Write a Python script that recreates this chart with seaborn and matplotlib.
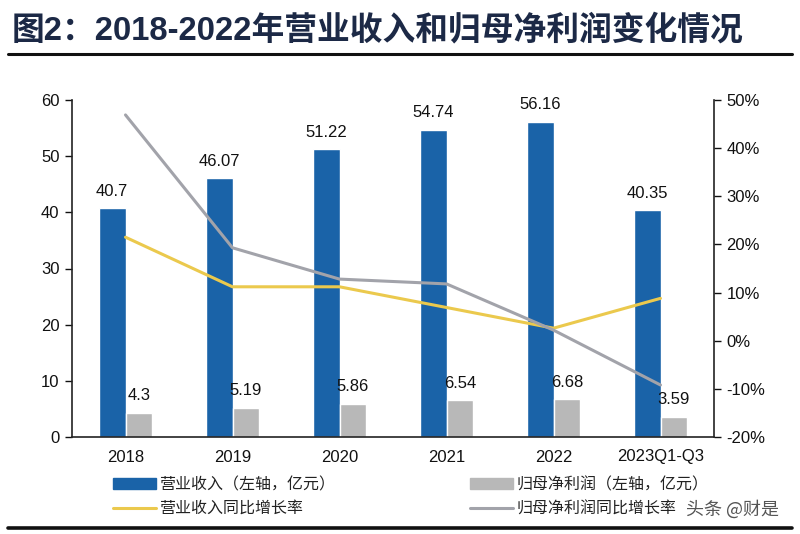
import numpy as np
import pandas as pd
import matplotlib
matplotlib.use("Agg")
import matplotlib.pyplot as plt
import seaborn as sns
from matplotlib.patches import Patch
from matplotlib.lines import Line2D

# ---- data ----
categories = ["2018", "2019", "2020", "2021", "2022", "2023Q1-Q3"]
revenue = [40.7, 46.07, 51.22, 54.74, 56.16, 40.35]
net_profit = [4.3, 5.19, 5.86, 6.54, 6.68, 3.59]
revenue_growth = [21.5, 11.2, 11.2, 6.9, 2.6, 8.8]
profit_growth = [46.9, 19.3, 12.8, 11.8, 2.2, -9.2]
left_ticks = [0, 10, 20, 30, 40, 50, 60]
right_ticks = [-20, -10, 0, 10, 20, 30, 40, 50]

title = "图2：2018-2022年营业收入和归母净利润变化情况"
s_rev = "营业收入（左轴，亿元）"
s_np = "归母净利润（左轴，亿元）"
s_revg = "营业收入同比增长率"
s_npg = "归母净利润同比增长率"

BLUE = "#1a63a8"
GRAY = "#b8b8b8"
YELLOW = "#ebc94d"
LGRAY = "#a2a3aa"

sns.set_theme(style="white")
plt.rcParams["font.family"] = ["Liberation Sans", "Noto Sans CJK SC", "DejaVu Sans"]

fig = plt.figure(figsize=(8, 5.34), dpi=100)
ax = fig.add_axes([72 / 800, 1 - 437 / 534, (714 - 72) / 800, (437 - 100) / 534])

df = pd.DataFrame({
    "cat": categories * 2,
    "val": revenue + net_profit,
    "series": [s_rev] * len(categories) + [s_np] * len(categories),
})
sns.barplot(data=df, x="cat", y="val", hue="series", order=categories,
            hue_order=[s_rev, s_np], palette=[BLUE, GRAY], width=0.5,
            saturation=1, legend=False, ax=ax)

for cont, vals in zip(ax.containers, [revenue, net_profit]):
    ax.bar_label(cont, labels=[f"{v:g}" for v in vals], padding=7,
                 fontsize=12, color="#111111")

ax.set_xlim(-0.5, 5.5)
ax.set_ylim(0, 60)
ax.set_yticks(left_ticks)
ax.set_xlabel("")
ax.set_ylabel("")
ax.tick_params(axis="y", which="both", left=True, length=5, width=1,
               labelsize=12, colors="#111111", pad=4)
ax.tick_params(axis="x", length=0, labelsize=12, colors="#111111", pad=9)
for s in ["top", "right"]:
    ax.spines[s].set_visible(False)
for s in ["left", "bottom"]:
    ax.spines[s].set_color("#222222")
    ax.spines[s].set_linewidth(1.2)

ax2 = ax.twinx()
xs = np.arange(len(categories))
ldf = pd.DataFrame({
    "x": np.concatenate([xs, xs]),
    "v": revenue_growth + profit_growth,
    "s": [s_revg] * len(xs) + [s_npg] * len(xs),
})
sns.lineplot(data=ldf, x="x", y="v", hue="s", hue_order=[s_revg, s_npg],
             palette=[YELLOW, LGRAY], linewidth=2.2, legend=False, ax=ax2)
ax2.set_ylim(-20, 50)
ax2.set_yticks(right_ticks)
ax2.set_yticklabels([f"{t}%" for t in right_ticks])
ax2.set_xlim(-0.5, 5.5)
ax2.set_xlabel("")
ax2.set_ylabel("")
ax2.tick_params(axis="y", right=True, length=5, width=1, labelsize=12,
                colors="#111111", pad=4)
for s in ["top", "left", "bottom"]:
    ax2.spines[s].set_visible(False)
ax2.spines["right"].set_color("#222222")
ax2.spines["right"].set_linewidth(1.2)

# title and rules
fig.text(12 / 800, 1 - 30 / 534, title, fontsize=23.6, fontweight="bold",
         color="#1c2946", va="center", ha="left",
         family=["Liberation Sans", "Noto Sans CJK SC"])
fig.add_artist(Line2D([8 / 800, 792 / 800], [1 - 54 / 534] * 2,
                      color="#111111", linewidth=2.2))
fig.add_artist(Line2D([8 / 800, 792 / 800], [1 - 528 / 534] * 2,
                      color="#111111", linewidth=2.6))

# legends
lkw = dict(frameon=False, handlelength=2.7, handleheight=0.7,
           handletextpad=0.2, labelspacing=0.45, borderpad=0, borderaxespad=0,
           prop={"family": ["Noto Sans CJK SC", "DejaVu Sans"], "size": 11.5})
leg1 = fig.legend(handles=[Patch(color=BLUE), Line2D([], [], color=YELLOW, lw=2.2)],
                  labels=[s_rev, s_revg], loc="upper left",
                  bbox_to_anchor=(113 / 800, 1 - 476 / 534), **lkw)
leg2 = fig.legend(handles=[Patch(color=GRAY), Line2D([], [], color=LGRAY, lw=2.2)],
                  labels=[s_np, s_npg], loc="upper left",
                  bbox_to_anchor=(470 / 800, 1 - 476 / 534), **lkw)
for leg in (leg1, leg2):
    for t in leg.get_texts():
        t.set_color("#222222")

# watermark
fig.text(686 / 800, 1 - 509 / 534, "头条 @财是", fontsize=13, color="#555555",
         va="center", ha="left", family=["Noto Sans CJK SC"])

fig.savefig("out.png", dpi=100)
